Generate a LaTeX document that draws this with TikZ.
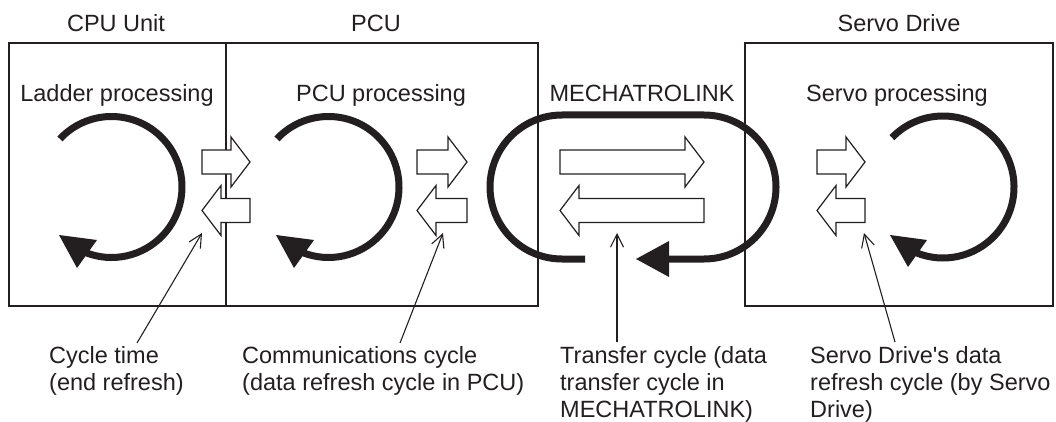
\documentclass[tikz,border=0pt]{standalone}
\usepackage{fontspec}
\setmainfont{Liberation Sans}[Ligatures=TeXOff]
\usetikzlibrary{arrows.meta}
\definecolor{ink}{RGB}{35,31,32}
\tikzset{
  boxline/.style={draw=ink, line width=1.5pt},
  cyclearc/.style={draw=ink, line width=7pt},
  headtri/.style={fill=ink, draw=none},
  blockarrow/.style={draw=ink, fill=white, line width=1.2pt, line join=miter},
  pointer/.style={draw=ink, line width=1.1pt, -{Straight Barb[length=13pt,width=13pt,line width=1.1pt]}},
  lbl/.style={text=ink, inner sep=0pt, anchor=base},
  note/.style={text=ink, inner sep=0pt, anchor=base west},
}
\newcommand\barrowR[3]{% x0, x1 (tip), y
  \draw[blockarrow] (#1,#3-12) -- (#2-19,#3-12) -- (#2-19,#3-25) -- (#2,#3) -- (#2-19,#3+25) -- (#2-19,#3+12) -- (#1,#3+12) -- cycle;}
\newcommand\barrowL[3]{% x0 (tip), x1, y
  \draw[blockarrow] (#2,#3-12) -- (#1+19,#3-12) -- (#1+19,#3-25) -- (#1,#3) -- (#1+19,#3+25) -- (#1+19,#3+12) -- (#2,#3+12) -- cycle;}
\begin{document}
\begin{tikzpicture}[x=1pt, y=-1pt, font=\fontsize{23.5}{27}\selectfont]
\useasboundingbox (0,0) rectangle (1056,422);

% unit boxes
\draw[boxline] (9,43) rectangle (538,306);
\draw[boxline] (226,43) -- (226,306);
\draw[boxline] (745,43) rectangle (1053,306);

% titles
\node[lbl] (cpu) at (116,32) {CPU Unit};
\node[lbl] (pcu) at (376,32) {PCU};
\node[lbl] (srv) at (899,32) {Servo Drive};

% processing labels
\node[lbl] (ladder) at (117,102) {Ladder processing};
\node[lbl] (pcup) at (381,102) {PCU processing};
\node[lbl] (mech) at (642,102) {MECHATROLINK};
\node[lbl] (srvp) at (897,102) {Servo processing};

% cyclic arrows
\draw[cyclearc] (111.5,187) ++(-137:70.5) arc[start angle=-137, end angle=112, radius=70.5];
\fill[headtri] (59,235) -- (97,240) -- (77,268) -- cycle;
\draw[cyclearc] (328.5,187) ++(-137:70.5) arc[start angle=-137, end angle=112, radius=70.5];
\fill[headtri] (276,235) -- (314,240) -- (294,268) -- cycle;
\draw[cyclearc] (943,187) ++(-136:71) arc[start angle=-136, end angle=112, radius=71];
\fill[headtri] (890,235) -- (927,240) -- (908,267) -- cycle;

% MECHATROLINK loop
\draw[cyclearc] (585,259) -- (562,259) arc[start angle=90, end angle=270, radius=72]
  -- (704,115) arc[start angle=-90, end angle=90, radius=72] -- (668,259);
\fill[headtri] (636,259) -- (669,241) -- (669,277) -- cycle;

% block arrows
\barrowR{202}{250}{162}
\barrowL{202}{250}{210.5}
\barrowR{417}{467}{162}
\barrowL{417}{467}{210.5}
\barrowR{560}{704}{162}
\barrowL{560}{704}{210.5}
\barrowR{817}{865}{162}
\barrowL{817}{865}{210.5}

% notes
\node[note] (n1) at (49,363) {\begin{tabular}[t]{@{}l@{}}Cycle time\\(end refresh)\end{tabular}};
\node[note] (n2) at (242,363) {\begin{tabular}[t]{@{}l@{}}Communications cycle\\(data refresh cycle in PCU)\end{tabular}};
\node[note] (n3) at (560,363) {\begin{tabular}[t]{@{}l@{}}Transfer cycle (data\\transfer cycle in\\MECHATROLINK)\end{tabular}};
\node[note] (n4) at (810,363) {\begin{tabular}[t]{@{}l@{}}Servo Drive's data\\refresh cycle (by Servo\\Drive)\end{tabular}};

% pointer lines
\coordinate (p1s) at (137,343); \coordinate (p1e) at (202,233);
\coordinate (p2s) at (400,343); \coordinate (p2e) at (443,233);
\coordinate (p3s) at (617,342); \coordinate (p3e) at (617,233);
\coordinate (p4s) at (895,342); \coordinate (p4e) at (864,233);
\draw[pointer] (p1s) -- (p1e);
\draw[pointer] (p2s) -- (p2e);
\draw[pointer] (p3s) -- (p3e);
\draw[pointer] (p4s) -- (p4e);
\end{tikzpicture}
\end{document}
